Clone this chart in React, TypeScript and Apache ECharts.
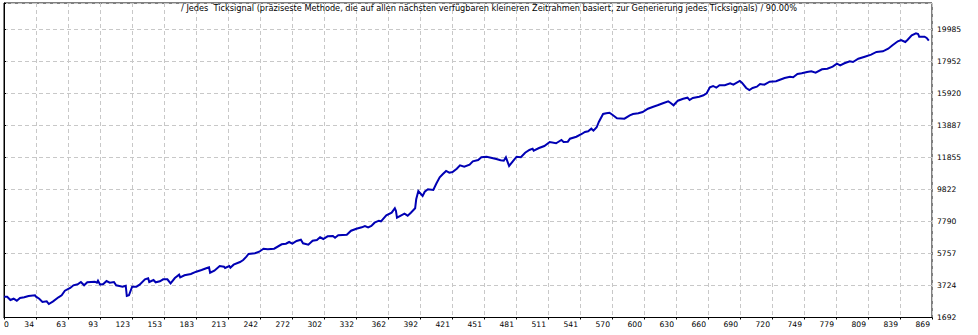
import React, { useEffect, useRef } from 'react';
import * as echarts from 'echarts';

const titleText =
  '/ Jedes  Ticksignal (präziseste Methode, die auf allen nächsten verfügbaren kleineren Zeitrahmen basiert, zur Generierung jedes Ticksignals) / 90.00%';

const xTickLabels = ['0', '34', '63', '93', '123', '153', '183', '213', '242', '272', '302', '332', '362', '392', '421', '451', '481', '511', '541', '570', '600', '630', '660', '690', '720', '749', '779', '809', '839', '869'];
const yTickLabels = ['1692', '3724', '5757', '7790', '9822', '11855', '13887', '15920', '17952', '19985'];

const xMax = 869;
const yBase = 1692.4;
const yStep = 2032.556;
const yTop = 21668;

const trades = [0, 3, 6, 9, 12, 15, 19, 23, 29, 30, 33, 36, 40, 42, 46, 51, 54, 57, 62, 65, 69, 72, 75, 78, 85, 87, 88, 90, 93, 96, 99, 103, 105, 108, 111, 114, 115, 117, 120, 124, 127, 132, 135, 136, 140, 142, 146, 149, 153, 156, 160, 164, 165, 169, 175, 180, 185, 190, 192, 193, 197, 202, 206, 207, 211, 212, 215, 221, 224, 227, 229, 235, 239, 243, 247, 253, 260, 264, 267, 270, 274, 278, 280, 285, 289, 293, 296, 299, 303, 308, 310, 313, 321, 325, 330, 335, 338, 341, 344, 347, 351, 353, 358, 363, 366, 367, 368, 372, 375, 378, 381, 385, 386, 388, 392, 394, 397, 402, 405, 408, 411, 414, 417, 420, 424, 427, 431, 436, 439, 444, 447, 452, 456, 461, 465, 468, 470, 473, 477, 480, 484, 488, 492, 495, 496, 501, 506, 511, 517, 522, 524, 528, 530, 536, 541, 544, 547, 550, 552, 555, 557, 561, 564, 567, 570, 574, 581, 586, 589, 594, 598, 603, 608, 612, 617, 622, 624, 627, 631, 636, 640, 642, 645, 651, 655, 658, 661, 664, 667, 670, 675, 680, 683, 689, 691, 695, 698, 701, 705, 708, 712, 717, 723, 726, 731, 736, 739, 743, 747, 752, 756, 760, 766, 771, 776, 780, 783, 787, 792, 795, 800, 806, 812, 817, 823, 828, 832, 837, 840, 844, 846, 850, 854, 856, 857, 862, 864, 866];

const balance = [3013, 3013, 2804, 2886, 2759, 2931, 2975, 3058, 3102, 3013, 2886, 2677, 2721, 2550, 2721, 2975, 3102, 3394, 3566, 3737, 3801, 3947, 3737, 3928, 3966, 3902, 4030, 3775, 3820, 4010, 3902, 3947, 3737, 3693, 3648, 3712, 3058, 3102, 3648, 3648, 3775, 4118, 4182, 3947, 4074, 3928, 3991, 4118, 4118, 3864, 4201, 4411, 4245, 4373, 4455, 4601, 4709, 4836, 4881, 4538, 4665, 4963, 4919, 4836, 4963, 4855, 5046, 5217, 5344, 5554, 5726, 5770, 5872, 6062, 6024, 6062, 6342, 6380, 6488, 6380, 6551, 6634, 6405, 6316, 6570, 6615, 6786, 6678, 6850, 6869, 6761, 6913, 6951, 7205, 7333, 7421, 7504, 7421, 7504, 7714, 7841, 7803, 8184, 8349, 8628, 8476, 8031, 8184, 8285, 8158, 8349, 8628, 9200, 9727, 9410, 9683, 9835, 9791, 10216, 10597, 10807, 10998, 10890, 10934, 11144, 11360, 11271, 11398, 11614, 11696, 11868, 11906, 11843, 11760, 11677, 11652, 11868, 11315, 11652, 11906, 11868, 12160, 12332, 12414, 12287, 12459, 12586, 12840, 12757, 12967, 12840, 12859, 13049, 13176, 13348, 13475, 13519, 13685, 13557, 13773, 14110, 14618, 14663, 14701, 14555, 14345, 14320, 14536, 14618, 14663, 14745, 14955, 15082, 15171, 15298, 15425, 15336, 15171, 15463, 15590, 15654, 15508, 15635, 15717, 15806, 15933, 16314, 16397, 16289, 16441, 16441, 16568, 16479, 16714, 16607, 16270, 16143, 16270, 16352, 16524, 16479, 16670, 16695, 16778, 16905, 16988, 16950, 17159, 17204, 17286, 17331, 17242, 17458, 17496, 17623, 17813, 17712, 17839, 17966, 17921, 18131, 18258, 18385, 18557, 18601, 18766, 18982, 19236, 19319, 19192, 19319, 19617, 19744, 19700, 19528, 19528, 19446, 19274];

const FONT = 'DejaVu Sans';
const FS = 7.6;
const TITLE_FS = 8.2;

export default function App() {
  const ref = useRef<HTMLDivElement>(null);

  useEffect(() => {
    if (!ref.current) return;
    const chart = echarts.init(ref.current, undefined, { renderer: 'svg' });
    const xStep = xMax / (xTickLabels.length - 1);
    const n = Math.min(trades.length, balance.length);
    const data: number[][] = [];
    for (let i = 0; i < n; i++) data.push([trades[i], balance[i] - yBase]);

    const gridLine = { show: true, lineStyle: { color: '#c8c8c8', width: 1, type: [4, 3] as any } };

    chart.setOption({
      animation: false,
      backgroundColor: '#ffffff',
      title: {
        text: titleText,
        left: 'center',
        top: 4,
        padding: 0,
        textStyle: { fontFamily: FONT, fontSize: TITLE_FS, fontWeight: 'normal', color: '#000' },
      },
      grid: {
        left: 4,
        right: 46,
        top: 3,
        bottom: 17.5,
        show: true,
        borderColor: '#000',
        borderWidth: 1,
        backgroundColor: 'transparent',
        containLabel: false,
        outerBoundsMode: 'none',
      },
      xAxis: {
        type: 'value',
        min: 0,
        max: xMax,
        interval: xStep,
        axisLine: { show: true, onZero: false, lineStyle: { color: '#000', width: 1 } },
        axisTick: { show: true, length: 2, lineStyle: { color: '#000' } },
        splitLine: gridLine,
        axisLabel: {
          show: true,
          margin: 3,
          align: 'right',
          alignMinLabel: 'left',
          padding: [0, 2, 0, 0],
          fontFamily: FONT,
          fontSize: FS,
          color: '#000',
          showMinLabel: true,
          showMaxLabel: true,
          hideOverlap: false,
          formatter: (v: number) => {
            const r = v / xStep;
            const i = Math.round(r);
            if (Math.abs(r - i) > 0.01) return '';
            return xTickLabels[i] ?? '';
          },
        },
      },
      yAxis: {
        type: 'value',
        position: 'right',
        min: 0,
        max: yTop - yBase,
        interval: yStep,
        axisLine: { show: true, lineStyle: { color: '#000', width: 1 } },
        axisTick: { show: true, length: 2, lineStyle: { color: '#000' } },
        splitLine: gridLine,
        axisLabel: {
          show: true,
          margin: 5,
          fontFamily: FONT,
          fontSize: FS,
          color: '#000',
          showMinLabel: true,
          showMaxLabel: true,
          hideOverlap: false,
          formatter: (v: number) => {
            const r = v / yStep;
            const i = Math.round(r);
            if (Math.abs(r - i) > 0.01) return '';
            return yTickLabels[i] ?? '';
          },
        },
      },
      series: [
        {
          type: 'line',
          data,
          showSymbol: false,
          symbol: 'none',
          clip: true,
          lineStyle: { color: '#0000b4', width: 2, join: 'miter' },
          emphasis: { disabled: true },
        },
      ],
    });

    return () => chart.dispose();
  }, []);

  return (
    <div
      ref={ref}
      style={{ position: 'fixed', left: 0, top: 0, width: 978, height: 335, background: '#fff' }}
    />
  );
}
